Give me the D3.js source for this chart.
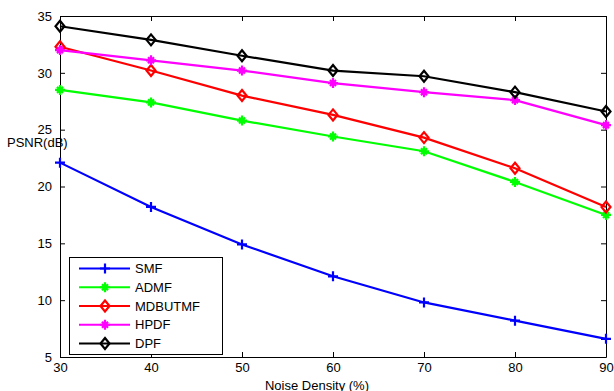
<!DOCTYPE html>
<html>
<head>
<meta charset="utf-8">
<script src="https://cdn.jsdelivr.net/npm/d3@7"></script>
<style>
  body { margin: 0; background: #fff; }
  svg text { font-family: "Liberation Sans", Arial, sans-serif; font-size: 13px; fill: #000; }
</style>
</head>
<body>
<svg id="chart" width="614" height="391"></svg>
<script>
// values
var noise = [30, 40, 50, 60, 70, 80, 90]
var smf     = [22.1, 18.2, 14.9, 12.1, 9.8, 8.2, 6.6]
var admf    = [28.5, 27.4, 25.8, 24.4, 23.1, 20.4, 17.5]
var mdbutmf = [32.3, 30.2, 28.0, 26.3, 24.3, 21.6, 18.2]
var hpdf    = [32.0, 31.1, 30.2, 29.1, 28.3, 27.6, 25.4]
var dpf     = [34.1, 32.9, 31.5, 30.2, 29.7, 28.3, 26.6]
var xTicks = [30, 40, 50, 60, 70, 80, 90]
var yTicks = [5, 10, 15, 20, 25, 30, 35]

var series = [
    {name: "SMF",     values: smf,     color: "#0000ff", marker: "plus"},
    {name: "ADMF",    values: admf,    color: "#00ff00", marker: "star"},
    {name: "MDBUTMF", values: mdbutmf, color: "#ff0000", marker: "diamond"},
    {name: "HPDF",    values: hpdf,    color: "#ff00ff", marker: "star"},
    {name: "DPF",     values: dpf,     color: "#000000", marker: "diamond"}
]

var plotLeft = 60, plotRight = 606, plotTop = 16, plotBottom = 357
var svg = d3.select("#chart")

var x = d3.scaleLinear().domain([30, 90]).range([plotLeft, plotRight])
var y = d3.scaleLinear().domain([5, 35]).range([plotBottom, plotTop])

// axes, ticks pointing inward, mirrored on top/right
svg.append("g").attr("transform", "translate(0," + plotBottom + ")")
    .call(d3.axisBottom(x).tickValues(xTicks).tickSizeInner(-5).tickSizeOuter(0).tickPadding(6))
svg.append("g").attr("transform", "translate(0," + plotTop + ")")
    .call(d3.axisTop(x).tickValues(xTicks).tickSizeInner(-5).tickSizeOuter(0).tickFormat(""))
svg.append("g").attr("transform", "translate(" + plotLeft + ",0)")
    .call(d3.axisLeft(y).tickValues(yTicks).tickSizeInner(-5).tickSizeOuter(0).tickPadding(8))
svg.append("g").attr("transform", "translate(" + plotRight + ",0)")
    .call(d3.axisRight(y).tickValues(yTicks).tickSizeInner(-5).tickSizeOuter(0).tickFormat(""))

svg.selectAll(".domain").attr("stroke", "#000")
svg.selectAll(".tick line").attr("stroke", "#000")
svg.selectAll(".tick text").style("font-size", "13px").attr("fill", "#000")

function markerPath(type)
{
    if(type == "plus") return "M-5,0H5M0,-5V5"
    if(type == "star") return "M-5,0H5M0,-5V5M-3,-3L3,3M-3,3L3,-3"
    return "M0,-5.5L4.5,0L0,5.5L-4.5,0Z"
}

var line = d3.line()
    .x(function(d, i){ return x(noise[i]) })
    .y(function(d){ return y(d) })

var plot = svg.append("g")
series.forEach(function(s)
{
    plot.append("path")
        .attr("d", line(s.values))
        .attr("fill", "none")
        .attr("stroke", s.color)
        .attr("stroke-width", 2.2)
    plot.selectAll(null)
        .data(s.values)
        .enter()
            .append("path")
            .attr("transform", function(d, i){ return "translate(" + x(noise[i]) + "," + y(d) + ")" })
            .attr("d", markerPath(s.marker))
            .attr("fill", "none")
            .attr("stroke", s.color)
            .attr("stroke-width", 2.2)
})

// labels
svg.append("text").attr("x", 317).attr("y", 389.5)
    .text("Noise Density (%)").attr("text-anchor", "middle")
svg.append("text").attr("x", 7).attr("y", 146.5)
    .text("PSNR(dB)")

// legend
var legend = svg.append("g")
legend.append("rect")
    .attr("x", 69.5).attr("y", 257.5).attr("width", 153).attr("height", 97)
    .attr("fill", "#fff").attr("stroke", "#000").attr("stroke-width", 1)
var rows = legend.selectAll("g.row")
    .data(series)
    .enter()
        .append("g")
        .attr("class", "row")
        .attr("transform", function(d, i){ return "translate(0," + (268.5 + i * 18.75) + ")" })
rows.append("line")
    .attr("x1", 79).attr("x2", 130)
    .attr("stroke", function(d){ return d.color })
    .attr("stroke-width", 2.2)
rows.append("path")
    .attr("transform", "translate(105,0)")
    .attr("d", function(d){ return markerPath(d.marker) })
    .attr("fill", "none")
    .attr("stroke", function(d){ return d.color })
    .attr("stroke-width", 2.2)
rows.append("text")
    .attr("x", 135).attr("y", 4.5)
    .text(function(d){ return d.name })
</script>
</body>
</html>
